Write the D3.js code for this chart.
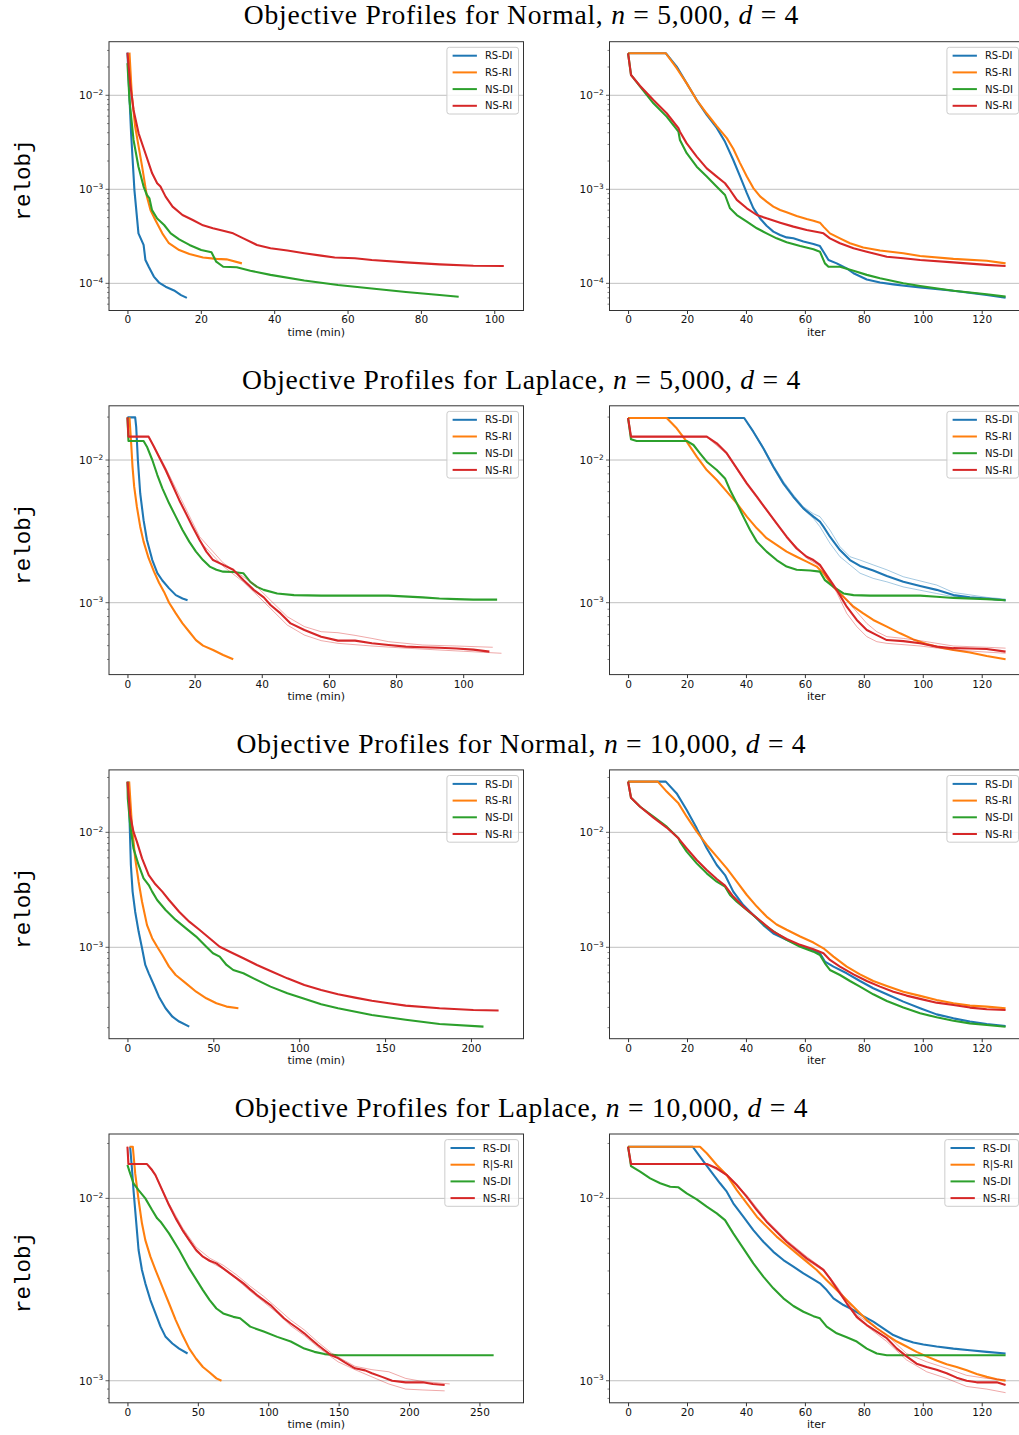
<!DOCTYPE html>
<html><head><meta charset="utf-8">
<script src="https://cdn.jsdelivr.net/npm/d3@7"></script>
<style>body{margin:0;background:#fff}</style>
</head><body>
<svg id="chart" width="1019" height="1435"></svg>
<script>
// ---------- labels / categories ----------
const seriesLabels = ["RS-DI","RS-RI","NS-DI","NS-RI"];
const seriesLabelsRow4 = ["RS-DI","R|S-RI","NS-DI","NS-RI"];
const seriesColors = ["#1f77b4","#ff7f0e","#2ca02c","#d62728"];
const distributions = ["Normal","Laplace","Normal","Laplace"];
const sampleSizes = ["5,000","5,000","10,000","10,000"];
const timeTicks = [[0,20,40,60,80,100],[0,20,40,60,80,100],[0,50,100,150,200],[0,50,100,150,200,250]];
const iterTicks = [0,20,40,60,80,100,120];
const yTickExps = [[-4,-3,-2],[-3,-2],[-3,-2],[-3,-2]];
const timeDomains = [[-5.03,107.97],[-5.5,117.96],[-10.74,230.6],[-13.1,281.3]];
const iterDomain = [-6.3,134.35];
const yExpDomains = [[-4.289,-1.430],[-3.504,-1.620],[-3.795,-1.457],[-3.121,-1.647]];

// ---------- Row 1: Normal, n=5,000 ----------
const r1t_RSDI = [[0,0.0284],[1.0,0.0039],[1.9,0.00098],[3.0,0.00034],[4.4,0.000256],[4.9,0.000177],[5.8,0.00015],[7.2,0.000118],[8.6,0.000102],[10.4,0.000092],[12.7,0.000084],[14.6,0.000075],[16.2,0.00007]];
const r1t_RSRI = [[0.55,0.0284],[1.2,0.01],[2.1,0.00464],[4.0,0.00174],[5.3,0.00084],[6.3,0.0006],[7.6,0.000472],[9.5,0.00034],[11.3,0.000267],[14.1,0.000226],[16.9,0.000205],[20.6,0.000188],[24.2,0.000182],[27.0,0.00018],[31.2,0.000163]];
const r1t_NSDI = [[0,0.022],[0.55,0.0089],[1.66,0.00335],[3.0,0.00174],[4.4,0.00107],[5.3,0.00087],[6.0,0.0008],[6.7,0.0006],[8.1,0.00049],[10.0,0.000417],[11.8,0.00034],[14.1,0.000294],[16.9,0.000256],[20.1,0.000226],[22.9,0.000214],[24.2,0.00017],[26.1,0.00015],[29.8,0.000148],[33.5,0.000136],[39.0,0.000123],[48.2,0.000107],[57.4,0.000096],[66.6,0.000088],[75.9,0.000081],[85.1,0.000075],[90.3,0.000072]];
const r1t_NSRI = [[0,0.0284],[0.74,0.0134],[1.66,0.00698],[3.04,0.00394],[4.88,0.00242],[6.73,0.00148],[8.1,0.00116],[9.0,0.00107],[10.4,0.000836],[12.3,0.000655],[15.0,0.000533],[17.8,0.000472],[20.6,0.000414],[23.3,0.000385],[26.1,0.000363],[28.8,0.00034],[31.6,0.000301],[35.3,0.000256],[39.0,0.000236],[43.6,0.000223],[48.2,0.000209],[52.8,0.000197],[56.5,0.000188],[62.0,0.000185],[66.6,0.000177],[75.9,0.000167],[85.1,0.000159],[94.3,0.000154],[102.6,0.000153]];

const r1i_RSDI = [[0,0.028],[12.8,0.028],[16.5,0.0202],[19.9,0.0134],[23.3,0.0089],[26.7,0.0062],[30.1,0.0045],[32.9,0.0032],[35.7,0.00205],[38.0,0.00137],[40.3,0.00091],[42.5,0.00063],[44.8,0.00049],[47.0,0.00041],[49.3,0.000355],[51.6,0.000327],[53.8,0.000308],[56.1,0.000301],[59.5,0.000278],[62.9,0.000262],[65.1,0.000249],[66.3,0.000217],[68.0,0.000177],[70.8,0.000163],[74.2,0.000144],[76.5,0.000128],[81.0,0.00011],[85.5,0.000102],[90.0,0.0000975],[94.5,0.0000937],[99.1,0.0000906],[110.4,0.0000835],[121.7,0.0000751],[128.1,0.0000704]];
const r1i_RSRI = [[0,0.028],[12.8,0.028],[16.5,0.0194],[19.9,0.0134],[23.3,0.0089],[26.7,0.0064],[30.1,0.0047],[33.5,0.0035],[35.7,0.0027],[38.0,0.0019],[40.3,0.00137],[42.5,0.00103],[44.8,0.00084],[47.0,0.00074],[49.3,0.000655],[51.6,0.000603],[53.8,0.000569],[57.2,0.00052],[60.6,0.000483],[62.9,0.000464],[65.1,0.000442],[66.3,0.000401],[68.5,0.00034],[71.9,0.000301],[75.3,0.000267],[79.8,0.00024],[85.5,0.000223],[93.4,0.000209],[99.1,0.000195],[110.4,0.000182],[121.7,0.000174],[128.1,0.000163]];
const r1i_NSDI = [[0,0.028],[1.0,0.01645],[4.1,0.01236],[8.6,0.00822],[13.1,0.00593],[17.1,0.0041],[17.6,0.00335],[19.9,0.00242],[23.3,0.00174],[26.7,0.001365],[30.1,0.001067],[32.9,0.00087],[34.6,0.000628],[36.9,0.000533],[40.3,0.000453],[43.7,0.000385],[47.0,0.00034],[50.4,0.000301],[53.8,0.000273],[58.4,0.000249],[62.9,0.00023],[65.1,0.000217],[66.8,0.000163],[68.0,0.00015],[71.9,0.00015],[76.5,0.000136],[81.0,0.000123],[85.5,0.000113],[93.4,0.0001],[99.1,0.0000937],[110.4,0.0000835],[121.7,0.0000764],[128.1,0.0000722]];
const r1i_NSRI = [[0,0.028],[1.0,0.01645],[4.1,0.01256],[8.6,0.00892],[13.1,0.00644],[17.1,0.00446],[17.6,0.0041],[19.9,0.00308],[23.3,0.00223],[26.7,0.00167],[30.1,0.001365],[32.9,0.00116],[34.6,0.000984],[36.9,0.000771],[40.3,0.000628],[43.7,0.000533],[47.0,0.000491],[51.6,0.000442],[56.1,0.000401],[60.6,0.000369],[65.1,0.000348],[66.3,0.00034],[68.5,0.000301],[71.9,0.000267],[76.5,0.000236],[81.0,0.000217],[87.8,0.000192],[93.4,0.000185],[99.1,0.000177],[110.4,0.000167],[121.7,0.000157],[128.1,0.000153]];

// ---------- Row 2: Laplace, n=5,000 ----------
const r2t_RSDI = [[0,0.0199],[2.3,0.0199],[2.6,0.0171],[3.1,0.01],[3.8,0.00583],[4.8,0.00379],[5.8,0.00275],[7.4,0.00199],[8.9,0.00161],[10.4,0.00143],[12.4,0.00126],[14.4,0.00113],[16.4,0.00107],[17.9,0.00104]];
const r2t_RSRI = [[0.6,0.0199],[1.1,0.0131],[1.5,0.00898],[2.0,0.0065],[2.8,0.00471],[3.8,0.00341],[4.8,0.00268],[6.3,0.00205],[7.9,0.00165],[9.4,0.00138],[10.9,0.00119],[12.4,0.001],[14.4,0.000841],[16.4,0.000716],[18.4,0.000626],[20.4,0.000547],[22.5,0.0005],[25.5,0.000466],[28.5,0.00043],[31.5,0.000401]];
const r2t_NSDI = [[0,0.0199],[0.3,0.0136],[4.8,0.0136],[5.8,0.0124],[7.4,0.01],[8.9,0.00785],[10.4,0.00633],[12.4,0.00497],[14.4,0.00401],[16.4,0.00323],[18.4,0.00268],[20.4,0.00228],[22.5,0.00199],[24.5,0.00179],[26.5,0.0017],[28.5,0.00165],[31.5,0.00164],[34.5,0.00161],[36.6,0.0014],[38.6,0.00129],[40.6,0.00123],[44.6,0.00116],[49.6,0.00113],[57.7,0.00112],[67.8,0.00112],[77.8,0.00112],[87.9,0.00109],[92.9,0.00107],[98.0,0.00106],[103.0,0.00105],[110.1,0.00105]];
const r2t_NSRI = [[0,0.0199],[0.3,0.01458],[6.3,0.01458],[7.9,0.0124],[9.4,0.01055],[11.4,0.00851],[13.4,0.00668],[15.4,0.00525],[17.4,0.00423],[19.4,0.00341],[21.5,0.00275],[23.5,0.00228],[25.5,0.00199],[28.5,0.00184],[31.5,0.0017],[34.5,0.00144],[37.6,0.00123],[40.6,0.00109],[42.6,0.000963],[45.6,0.000841],[48.6,0.000716],[52.7,0.000643],[57.7,0.000578],[62.7,0.000542],[67.8,0.000542],[72.8,0.000519],[77.8,0.000505],[82.9,0.000492],[87.9,0.000487],[92.9,0.000483],[98.0,0.000478],[103.0,0.000469],[107.8,0.000454]];
const r2t_NSRI_runA = [[0,0.0199],[0.3,0.0146],[6.3,0.0146],[11.4,0.0088],[21.5,0.0029],[28.5,0.0019],[34.5,0.00152],[38.6,0.00129],[42.6,0.00104],[47.6,0.000798],[52.7,0.00068],[57.7,0.000626],[62.7,0.000616],[67.8,0.00059],[72.8,0.000562],[77.8,0.000533],[87.9,0.000505],[98.0,0.000497],[108.8,0.000487]];
const r2t_NSRI_runB = [[0,0.0199],[0.3,0.0146],[6.3,0.0146],[11.4,0.0083],[21.5,0.0027],[28.5,0.0018],[34.5,0.0014],[38.6,0.00113],[42.6,0.000912],[47.6,0.000697],[52.7,0.000593],[57.7,0.000542],[62.7,0.000519],[72.8,0.000497],[82.9,0.00048],[92.9,0.000466],[111.4,0.000442]];

const r2i_RSDI = [[0,0.0197],[39.4,0.0197],[42.5,0.0158],[45.9,0.0121],[49.3,0.00898],[52.7,0.00686],[56.1,0.00553],[59.5,0.00458],[62.9,0.00401],[65.1,0.0037],[66.3,0.00341],[68.5,0.0029],[71.9,0.00234],[75.3,0.00199],[78.7,0.00181],[83.2,0.00168],[87.8,0.00154],[93.4,0.0014],[99.1,0.00131],[104.7,0.00123],[110.4,0.00113],[116.0,0.00109],[121.7,0.00107],[128.1,0.00104]];
const r2i_RSDI_runA = [[0,0.0197],[39.4,0.0197],[42.5,0.016],[45.9,0.0123],[49.3,0.0092],[52.7,0.0071],[56.1,0.0057],[59.5,0.0047],[62.9,0.0042],[65.1,0.00401],[68.5,0.00323],[71.9,0.00247],[75.3,0.0021],[78.7,0.00199],[83.2,0.00184],[87.8,0.0017],[93.4,0.00152],[104.7,0.00133],[110.4,0.00118],[121.7,0.00109],[128.1,0.00106]];
const r2i_RSDI_runB = [[0,0.0197],[39.4,0.0197],[42.5,0.0156],[45.9,0.0119],[49.3,0.0088],[52.7,0.0067],[56.1,0.0054],[59.5,0.0045],[62.9,0.0039],[65.1,0.00341],[68.5,0.00261],[71.9,0.0021],[75.3,0.00184],[78.7,0.00161],[83.2,0.00148],[87.8,0.0014],[93.4,0.00129],[104.7,0.00116],[110.4,0.0011],[121.7,0.00106],[128.1,0.00103]];
const r2i_RSRI = [[0,0.0197],[13.1,0.0197],[16.5,0.01667],[19.9,0.01345],[23.3,0.01055],[26.7,0.00851],[30.1,0.00724],[33.5,0.006],[36.9,0.00497],[40.3,0.00401],[43.7,0.00332],[47.0,0.00283],[50.4,0.00254],[53.8,0.00228],[57.2,0.0021],[60.6,0.00194],[64.0,0.00179],[66.3,0.00161],[69.7,0.00129],[73.1,0.0011],[76.5,0.000937],[79.8,0.000841],[83.2,0.000757],[87.8,0.00068],[92.3,0.00061],[96.8,0.000553],[101.3,0.000513],[105.9,0.000486],[110.4,0.000466],[116.0,0.000447],[121.7,0.000423],[128.1,0.000401]];
const r2i_NSDI = [[0,0.0197],[1.0,0.01397],[2.9,0.0136],[19.9,0.0136],[22.2,0.01274],[24.4,0.01114],[26.7,0.00973],[30.1,0.00851],[32.9,0.00743],[34.6,0.00616],[36.9,0.00497],[39.1,0.00401],[41.4,0.00323],[43.7,0.00268],[47.0,0.00228],[50.4,0.00199],[53.8,0.00179],[57.2,0.0017],[61.8,0.00168],[65.1,0.00165],[66.8,0.00144],[69.7,0.00129],[73.1,0.00116],[76.5,0.00113],[82.1,0.00112],[87.8,0.00112],[99.1,0.00112],[104.7,0.0011],[110.4,0.00108],[121.7,0.00106],[128.1,0.00104]];
const r2i_NSRI = [[0,0.0197],[1.0,0.01458],[26.7,0.01458],[30.1,0.0131],[33.5,0.01114],[36.9,0.00874],[40.3,0.00686],[43.7,0.00553],[47.0,0.00447],[50.4,0.0036],[53.8,0.0029],[57.2,0.0024],[60.6,0.0021],[62.9,0.00199],[65.1,0.00184],[67.4,0.00156],[70.8,0.00123],[74.2,0.000937],[77.6,0.000757],[81.0,0.000643],[84.4,0.000593],[87.8,0.000547],[93.4,0.000538],[99.1,0.000519],[104.7,0.000492],[110.4,0.00048],[116.0,0.000478],[121.7,0.000474],[128.1,0.000454]];
const r2i_NSRI_runA = [[0,0.0197],[1.0,0.0146],[26.7,0.0146],[33.5,0.0112],[40.3,0.0069],[47.0,0.0045],[53.8,0.0029],[60.6,0.0021],[65.1,0.00184],[70.8,0.00123],[74.2,0.00104],[77.6,0.000863],[81.0,0.000716],[84.4,0.000626],[87.8,0.000578],[93.4,0.000562],[99.1,0.000542],[110.4,0.000497],[121.7,0.000487],[128.1,0.00048]];
const r2i_NSRI_runB = [[0,0.0197],[1.0,0.0145],[26.7,0.0145],[33.5,0.011],[40.3,0.0067],[47.0,0.0044],[53.8,0.00285],[60.6,0.00205],[65.1,0.0018],[70.8,0.00118],[74.2,0.000841],[77.6,0.00068],[81.0,0.000578],[84.4,0.000533],[87.8,0.000519],[99.1,0.000497],[110.4,0.000466],[128.1,0.000442]];

// ---------- Row 3: Normal, n=10,000 ----------
const r3t_RSDI = [[0.6,0.0276],[1.2,0.01324],[2.0,0.0052],[3.0,0.00305],[4.5,0.00204],[6.5,0.00137],[8.5,0.00098],[10.4,0.000702],[12.4,0.000594],[15.4,0.00047],[18.3,0.000372],[22.2,0.000295],[26.2,0.000249],[30.1,0.000226],[36.0,0.000204]];
const r3t_RSRI = [[1.0,0.0276],[2.6,0.01158],[4.5,0.00594],[6.5,0.00372],[8.5,0.00249],[11.4,0.00156],[14.4,0.0012],[17.3,0.00101],[20.3,0.000858],[24.2,0.000679],[28.1,0.000574],[34.1,0.000486],[40.0,0.000411],[45.9,0.00036],[51.8,0.000326],[57.7,0.000305],[64.6,0.000295]];
const r3t_NSDI = [[0,0.0276],[0.2,0.01977],[1.6,0.01158],[3.5,0.00726],[6.5,0.0052],[9.4,0.00398],[12.4,0.00348],[14.4,0.00305],[17.3,0.00258],[22.2,0.00211],[28.1,0.00173],[34.1,0.00146],[40.0,0.00124],[45.9,0.00101],[49.8,0.000887],[53.7,0.00083],[57.7,0.000702],[61.6,0.000635],[67.5,0.000594],[73.4,0.000537],[83.3,0.000455],[93.1,0.000398],[103.0,0.000356],[112.8,0.000319],[122.6,0.000295],[142.3,0.000258],[162.0,0.000234],[181.7,0.000215],[207.3,0.000204]];
const r3t_NSRI = [[0,0.0276],[1.6,0.01416],[3.5,0.01013],[5.5,0.0083],[8.5,0.00594],[12.4,0.00425],[16.3,0.00353],[20.3,0.00305],[24.2,0.00258],[30.1,0.00204],[36.0,0.00167],[41.9,0.00142],[47.8,0.0012],[53.7,0.00101],[59.6,0.000916],[67.5,0.000802],[75.4,0.000702],[83.3,0.000622],[93.1,0.000537],[103.0,0.00047],[112.8,0.000426],[122.6,0.00039],[132.5,0.000365],[142.3,0.000343],[152.2,0.000326],[162.0,0.000311],[181.7,0.000295],[201.4,0.000285],[216.1,0.000282]];

const r3i_RSDI = [[0,0.0276],[12.8,0.0276],[16.5,0.0218],[19.9,0.01563],[23.3,0.01083],[26.7,0.00726],[30.1,0.0052],[32.9,0.00425],[35.7,0.00305],[39.1,0.00233],[42.5,0.00191],[45.9,0.00156],[49.3,0.00132],[53.8,0.00116],[58.4,0.00103],[62.9,0.000948],[65.1,0.000887],[66.8,0.00075],[69.7,0.000679],[74.2,0.000594],[78.7,0.000509],[83.2,0.00044],[87.8,0.00039],[93.4,0.000337],[99.1,0.000295],[104.7,0.000261],[110.4,0.000241],[116.0,0.000226],[121.7,0.000215],[128.1,0.000207]];
const r3i_RSRI = [[0,0.0276],[10.1,0.0276],[13.1,0.0226],[17.1,0.01787],[19.9,0.01368],[23.3,0.01013],[26.7,0.00776],[30.1,0.00614],[33.5,0.00486],[36.9,0.00372],[40.3,0.00285],[43.7,0.00226],[47.0,0.00185],[50.4,0.00158],[53.8,0.00142],[58.4,0.00124],[62.9,0.0011],[66.3,0.00098],[69.7,0.00083],[74.2,0.000679],[78.7,0.000582],[83.2,0.000509],[87.8,0.000461],[93.4,0.000411],[99.1,0.000378],[104.7,0.000348],[110.4,0.000326],[116.0,0.000311],[121.7,0.000305],[128.1,0.000295]];
const r3i_NSDI = [[0,0.0276],[1.0,0.02],[4.1,0.0167],[8.6,0.01368],[13.1,0.0112],[17.1,0.00887],[17.6,0.0083],[19.9,0.00679],[23.3,0.00537],[26.7,0.0044],[30.1,0.00372],[32.9,0.00337],[34.6,0.00285],[36.9,0.00249],[40.3,0.00211],[43.7,0.00179],[47.0,0.00151],[50.4,0.00132],[53.8,0.00116],[58.4,0.00101],[62.9,0.000916],[65.1,0.000858],[66.8,0.000726],[68.5,0.000635],[71.9,0.000574],[75.3,0.000509],[78.7,0.000455],[83.2,0.00039],[87.8,0.000341],[93.4,0.000299],[99.1,0.000267],[104.7,0.000246],[110.4,0.00023],[116.0,0.000218],[121.7,0.000211],[128.1,0.000204]];
const r3i_NSRI = [[0,0.0276],[1.0,0.02],[4.1,0.0167],[8.6,0.01341],[13.1,0.011],[17.1,0.00887],[19.9,0.00726],[23.3,0.00574],[26.7,0.0047],[30.1,0.00393],[32.9,0.00344],[35.7,0.00276],[39.1,0.00226],[42.5,0.00191],[45.9,0.00162],[49.3,0.00137],[53.8,0.00118],[58.4,0.00105],[62.9,0.000961],[66.3,0.000887],[68.5,0.000776],[71.9,0.000679],[76.5,0.000582],[81.0,0.000509],[85.5,0.000455],[90.0,0.000411],[94.5,0.00038],[99.1,0.000356],[104.7,0.00033],[110.4,0.000315],[116.0,0.000299],[121.7,0.000289],[128.1,0.000285]];

// ---------- Row 4: Laplace, n=10,000 ----------
const r4t_RSDI = [[1.9,0.0192],[3.1,0.0149],[4.3,0.0111],[5.5,0.00863],[6.7,0.0067],[7.9,0.00521],[10.3,0.00405],[12.7,0.00342],[16.3,0.00277],[19.9,0.00234],[23.5,0.00198],[27.1,0.00174],[31.9,0.0016],[36.7,0.0015],[42.7,0.00141]];
const r4t_RSRI = [[1.5,0.0192],[3.8,0.0192],[5.5,0.0137],[7.9,0.0098],[10.3,0.0073],[12.7,0.0059],[16.3,0.00479],[19.9,0.00405],[24.7,0.00328],[29.5,0.00266],[34.3,0.00215],[39.1,0.00178],[43.9,0.0015],[48.8,0.00132],[53.6,0.00119],[58.4,0.00111],[63.2,0.00103],[66.8,0.001]];
const r4t_NSDI = [[0,0.01524],[1.9,0.0137],[4.3,0.0121],[7.9,0.0111],[12.7,0.01],[17.5,0.00863],[21.1,0.00777],[23.5,0.00745],[29.5,0.00643],[36.7,0.00521],[43.9,0.00413],[53.6,0.00314],[58.4,0.00277],[63.2,0.00249],[68.0,0.00234],[75.2,0.00224],[80.0,0.0022],[87.2,0.00198],[96.8,0.00186],[106.4,0.00174],[116.0,0.00164],[125.6,0.0015],[132.8,0.00144],[140.0,0.0014],[149.6,0.00138],[260.1,0.00138]];
const r4t_NSRI = [[0,0.0192],[0.7,0.01542],[13.9,0.01542],[17.5,0.0143],[19.9,0.01342],[24.7,0.0111],[29.5,0.00919],[34.3,0.00777],[39.1,0.0067],[43.9,0.0059],[48.8,0.00521],[53.6,0.00479],[58.4,0.00455],[63.2,0.0044],[68.0,0.00413],[72.8,0.00388],[77.6,0.00364],[82.4,0.00342],[87.2,0.00317],[92.0,0.00295],[96.8,0.00277],[101.6,0.0026],[106.4,0.00239],[111.2,0.0022],[116.0,0.00206],[120.8,0.00194],[125.6,0.00182],[130.4,0.00169],[135.2,0.00157],[140.0,0.00147],[144.8,0.00138],[149.6,0.00133],[154.4,0.00126],[161.6,0.00117],[168.8,0.00114],[173.6,0.0011],[180.8,0.00105],[188.0,0.001],[197.6,0.00098],[209.7,0.00098],[216.9,0.00096],[225.3,0.000947]];
const r4t_NSRI_runA = [[0,0.0192],[0.7,0.0154],[13.9,0.0154],[19.9,0.0135],[29.5,0.0094],[39.1,0.0069],[48.8,0.0054],[58.4,0.0047],[68.0,0.0043],[77.6,0.0038],[87.2,0.0033],[96.8,0.0029],[106.4,0.0025],[116.0,0.00215],[125.6,0.0019],[135.2,0.00163],[144.8,0.00142],[149.6,0.00135],[161.6,0.0012],[173.6,0.00115],[185.6,0.00112],[197.6,0.00103],[209.7,0.00099],[228.9,0.00096]];
const r4t_NSRI_runB = [[0,0.0192],[0.7,0.0154],[13.9,0.0154],[19.9,0.0133],[29.5,0.0091],[39.1,0.0066],[48.8,0.0051],[58.4,0.0045],[68.0,0.0041],[77.6,0.0036],[87.2,0.0031],[96.8,0.0027],[106.4,0.00235],[116.0,0.002],[125.6,0.00177],[135.2,0.00153],[144.8,0.00135],[149.6,0.00127],[161.6,0.00115],[173.6,0.00105],[185.6,0.00096],[197.6,0.0009],[209.7,0.00089],[225.3,0.00088]];

const r4i_RSDI = [[0,0.0192],[21.9,0.0192],[24.4,0.01694],[27.8,0.0143],[31.2,0.0121],[33.5,0.01088],[35.7,0.00939],[39.1,0.00793],[42.5,0.0067],[45.9,0.00578],[49.3,0.00509],[52.7,0.00459],[56.1,0.00422],[59.5,0.00388],[62.9,0.0036],[65.1,0.00342],[67.4,0.00314],[69.7,0.00283],[73.1,0.0026],[76.5,0.00244],[79.8,0.00226],[83.2,0.00211],[86.6,0.00194],[90.0,0.00178],[93.4,0.00169],[96.8,0.00162],[100.2,0.00158],[104.7,0.00154],[110.4,0.0015],[116.0,0.00147],[121.7,0.00144],[128.1,0.00141]];
const r4i_RSRI = [[0,0.0192],[24.4,0.0192],[26.7,0.01767],[30.1,0.01524],[33.5,0.01342],[36.9,0.0111],[40.3,0.00939],[43.7,0.00793],[47.0,0.007],[50.4,0.00617],[53.8,0.00555],[57.2,0.00499],[60.6,0.0045],[64.0,0.00405],[67.4,0.00356],[70.8,0.00314],[74.2,0.00277],[77.6,0.00244],[81.0,0.00215],[84.4,0.00194],[87.8,0.00178],[91.2,0.00164],[94.5,0.00154],[97.9,0.00144],[101.3,0.00136],[104.7,0.00129],[108.1,0.00123],[111.5,0.00119],[114.9,0.00114],[118.3,0.00109],[121.7,0.00105],[125.1,0.00102],[128.1,0.001]];
const r4i_NSDI = [[0,0.0192],[1.0,0.01503],[4.1,0.014],[7.5,0.01288],[10.9,0.0121],[14.3,0.01159],[17.1,0.0115],[19.9,0.01065],[23.3,0.00987],[26.7,0.009],[30.1,0.00827],[32.9,0.0076],[35.7,0.00643],[39.1,0.00532],[42.5,0.0044],[45.9,0.00372],[49.3,0.00321],[52.7,0.00283],[56.1,0.00257],[59.5,0.00239],[62.9,0.00226],[65.1,0.0022],[67.4,0.00198],[70.8,0.00182],[74.2,0.00173],[77.6,0.00164],[81.0,0.0015],[84.4,0.00141],[87.8,0.00138],[128.1,0.00138]];
const r4i_NSRI = [[0,0.0192],[1.0,0.01542],[26.7,0.01542],[30.1,0.01462],[33.5,0.01342],[36.9,0.01184],[40.3,0.0102],[43.7,0.00863],[47.0,0.00745],[50.4,0.00656],[53.8,0.00578],[57.2,0.00521],[60.6,0.00469],[64.0,0.00431],[66.3,0.00405],[68.5,0.00364],[70.8,0.00321],[74.2,0.00266],[77.6,0.00224],[81.0,0.00202],[84.4,0.00186],[87.8,0.00171],[91.2,0.0015],[94.5,0.00136],[97.9,0.00124],[101.3,0.00119],[104.7,0.00115],[108.1,0.0011],[111.5,0.00104],[114.9,0.001],[118.3,0.00098],[122.8,0.00098],[125.1,0.00098],[128.1,0.000947]];
const r4i_NSRI_runA = [[0,0.0192],[1.0,0.0154],[26.7,0.0154],[33.5,0.0134],[40.3,0.0102],[47.0,0.0074],[53.8,0.0057],[60.6,0.0046],[66.3,0.004],[70.8,0.0032],[77.6,0.0022],[87.8,0.00164],[94.5,0.0013],[101.3,0.00112],[108.1,0.00103],[114.9,0.00093],[121.7,0.0009],[128.1,0.00086]];
const r4i_NSRI_runB = [[0,0.0192],[1.0,0.0155],[26.7,0.0155],[33.5,0.0136],[40.3,0.0104],[47.0,0.0076],[53.8,0.0059],[60.6,0.0048],[66.3,0.0041],[70.8,0.0033],[77.6,0.0023],[87.8,0.00178],[94.5,0.00141],[101.3,0.00127],[108.1,0.00117],[114.9,0.00107],[121.7,0.00103],[128.1,0.00101]];

// ---------- assemble panels ----------
const rows = [
  {time:[r1t_RSDI,r1t_RSRI,r1t_NSDI,r1t_NSRI], iter:[r1i_RSDI,r1i_RSRI,r1i_NSDI,r1i_NSRI], timeRuns:[], iterRuns:[], labels:seriesLabels},
  {time:[r2t_RSDI,r2t_RSRI,r2t_NSDI,r2t_NSRI], iter:[r2i_RSDI,r2i_RSRI,r2i_NSDI,r2i_NSRI],
   timeRuns:[{s:3,data:r2t_NSRI_runA},{s:3,data:r2t_NSRI_runB}],
   iterRuns:[{s:0,data:r2i_RSDI_runA},{s:0,data:r2i_RSDI_runB},{s:3,data:r2i_NSRI_runA},{s:3,data:r2i_NSRI_runB}], labels:seriesLabels},
  {time:[r3t_RSDI,r3t_RSRI,r3t_NSDI,r3t_NSRI], iter:[r3i_RSDI,r3i_RSRI,r3i_NSDI,r3i_NSRI], timeRuns:[], iterRuns:[], labels:seriesLabels},
  {time:[r4t_RSDI,r4t_RSRI,r4t_NSDI,r4t_NSRI], iter:[r4i_RSDI,r4i_RSRI,r4i_NSDI,r4i_NSRI],
   timeRuns:[{s:3,data:r4t_NSRI_runA},{s:3,data:r4t_NSRI_runB}],
   iterRuns:[{s:3,data:r4i_NSRI_runA},{s:3,data:r4i_NSRI_runB}], labels:seriesLabelsRow4}
];

// ---------- layout ----------
const W = 1019, H = 1435;
const panelLeft = [109, 609.5], panelW = 414.5, panelH = 268.8, rowTop0 = 41.7, rowStep = 364.1;
const sansFont = "'DejaVu Sans', sans-serif";

const svg = d3.select("#chart");
svg.append("rect").attr("width", W).attr("height", H).attr("fill", "#fff");
const defs = svg.append("defs");
let clipCount = 0;

function drawPanel(px, py, xDom, yExp, xTicks, yExps, xLabel, series, runs, labels) {
  const x = d3.scaleLinear().domain(xDom).range([px, px + panelW]);
  const y = d3.scaleLog().domain([10 ** yExp[0], 10 ** yExp[1]]).range([py + panelH, py]);
  const g = svg.append("g");
  const cid = "clip" + (clipCount++);
  defs.append("clipPath").attr("id", cid).append("rect")
    .attr("x", px).attr("y", py).attr("width", panelW).attr("height", panelH);

  // grid (major decades)
  g.append("g").selectAll("line").data(yExps).join("line")
    .attr("x1", px).attr("x2", px + panelW)
    .attr("y1", e => y(10 ** e)).attr("y2", e => y(10 ** e))
    .attr("stroke", "#b0b0b0").attr("stroke-width", 0.8);

  const line = d3.line().x(d => x(d[0])).y(d => y(d[1]));
  const lg = g.append("g").attr("clip-path", `url(#${cid})`);
  series.forEach((data, i) => {
    runs.filter(r => r.s === i).forEach(r => {
      lg.append("path").attr("d", line(r.data)).attr("fill", "none")
        .attr("stroke", seriesColors[i]).attr("stroke-width", 1).attr("stroke-opacity", 0.4);
    });
    lg.append("path").attr("d", line(data)).attr("fill", "none")
      .attr("stroke", seriesColors[i]).attr("stroke-width", 2.1)
      .attr("stroke-linejoin", "round").attr("stroke-linecap", "butt");
  });

  // x axis
  const xAxis = d3.axisBottom(x).tickValues(xTicks).tickSize(3.5).tickPadding(2).tickFormat(d3.format("d"));
  const xg = g.append("g").attr("transform", `translate(0,${py + panelH})`).call(xAxis);
  xg.select(".domain").remove();
  xg.selectAll("line").attr("stroke", "#333");
  xg.selectAll("text").style("font-family", sansFont).style("font-size", "10.5px").attr("fill", "#111");

  // y minor ticks
  const minor = [];
  for (let e = -6; e <= 0; e++) for (let k = 2; k <= 9; k++) {
    const v = k * 10 ** e;
    if (v >= 10 ** yExp[0] && v <= 10 ** yExp[1]) minor.push(v);
  }
  g.append("g").selectAll("line").data(minor).join("line")
    .attr("x1", px - 2).attr("x2", px).attr("y1", d => y(d)).attr("y2", d => y(d))
    .attr("stroke", "#333").attr("stroke-width", 0.6);
  // y major ticks + labels
  const yg = g.append("g");
  yg.selectAll("line").data(yExps).join("line")
    .attr("x1", px - 3.5).attr("x2", px).attr("y1", e => y(10 ** e)).attr("y2", e => y(10 ** e))
    .attr("stroke", "#333").attr("stroke-width", 0.8);
  yExps.forEach(e => {
    const t = yg.append("text").attr("x", px - 5.7).attr("y", y(10 ** e) + 4)
      .attr("text-anchor", "end").style("font-family", sansFont).style("font-size", "10.5px").attr("fill", "#111");
    t.append("tspan").text("10");
    t.append("tspan").attr("dy", -4.5).style("font-size", "7.4px").text("\u2212" + Math.abs(e));
  });

  // spines
  g.append("rect").attr("x", px).attr("y", py).attr("width", panelW).attr("height", panelH)
    .attr("fill", "none").attr("stroke", "#333").attr("stroke-width", 1);

  // x label
  g.append("text").attr("x", px + panelW / 2 + (xLabel === "iter" ? -0.5 : 0)).attr("y", py + panelH + 25)
    .attr("text-anchor", "middle").style("font-family", sansFont).style("font-size", "11px")
    .attr("fill", "#111").text(xLabel);

  // legend
  const leg = g.append("g");
  const box = leg.append("rect");
  const rowY = i => py + 14 + i * 16.7;
  const texts = labels.map((lab, i) => leg.append("text").attr("y", rowY(i) + 3.6)
    .style("font-family", sansFont).style("font-size", "10px").attr("fill", "#111").text(lab));
  const maxW = d3.max(texts, t => t.node().getComputedTextLength());
  const boxW = 38 + maxW + 5.5;
  const boxRight = Math.min(px + panelW - 5, W - 0.5);
  const boxLeft = boxRight - boxW;
  box.attr("x", boxLeft).attr("y", py + 5.6).attr("width", boxW).attr("height", 66.7)
    .attr("rx", 2.5).attr("fill", "#fff").attr("fill-opacity", 0.8)
    .attr("stroke", "#cccccc").attr("stroke-width", 1);
  texts.forEach(t => t.attr("x", boxLeft + 38));
  labels.forEach((lab, i) => leg.append("line")
    .attr("x1", boxLeft + 5.7).attr("x2", boxLeft + 30).attr("y1", rowY(i)).attr("y2", rowY(i))
    .attr("stroke", seriesColors[i]).attr("stroke-width", 2));
  texts.forEach(t => t.raise());
}

rows.forEach((row, r) => {
  const top = rowTop0 + r * rowStep;
  // title
  const t = svg.append("text").attr("x", 521.5).attr("y", top - 17.3).attr("text-anchor", "middle")
    .style("font-family", "'Liberation Serif', 'Times New Roman', serif").style("font-size", "27.6px")
    .style("letter-spacing", "0.75px").style("white-space", "pre").attr("fill", "#000");
  t.append("tspan").text(`Objective Profiles for ${distributions[r]}, `);
  t.append("tspan").style("font-style", "italic").text("n");
  t.append("tspan").text(` = ${sampleSizes[r]}, `);
  t.append("tspan").style("font-style", "italic").text("d");
  t.append("tspan").text(" = 4");

  // y label
  svg.append("text").attr("transform", `translate(23.5,${top + panelH / 2 + 4}) rotate(-90)`)
    .attr("text-anchor", "middle").attr("dominant-baseline", "central")
    .style("font-family", "'Liberation Mono', 'DejaVu Sans Mono', monospace").style("font-size", "22.5px")
    .attr("fill", "#000").text("relobj");

  drawPanel(panelLeft[0], top, timeDomains[r], yExpDomains[r], timeTicks[r], yTickExps[r], "time (min)", row.time, row.timeRuns, row.labels);
  drawPanel(panelLeft[1], top, iterDomain, yExpDomains[r], iterTicks, yTickExps[r], "iter", row.iter, row.iterRuns, row.labels);
});
</script>
</body></html>
